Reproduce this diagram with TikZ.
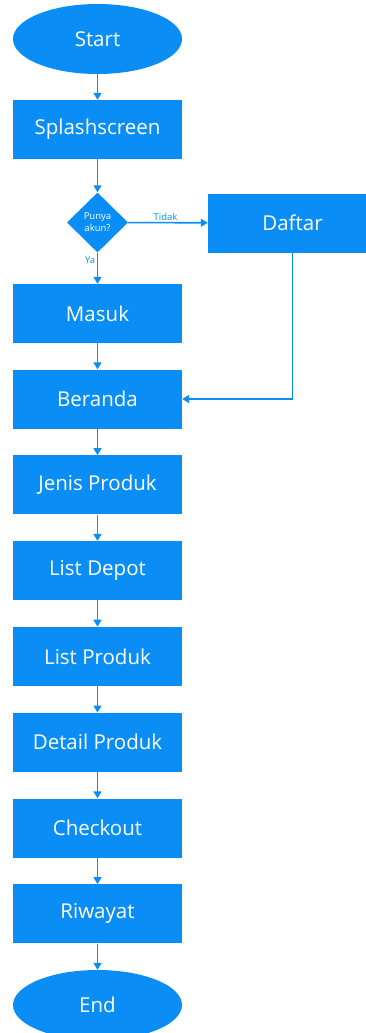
\documentclass[tikz,border=0pt]{standalone}
\usepackage{fontspec}
\setmainfont{Open Sans}
\usetikzlibrary{shapes.geometric,arrows.meta}
\definecolor{flowblue}{RGB}{10,142,245}
\begin{document}
\begin{tikzpicture}[x=1pt,y=-1pt,box/.style={shape=rectangle,fill=flowblue,text=white,minimum width=169pt,minimum height=59pt,inner sep=0pt,font=\fontsize{20.5}{24}\selectfont},term/.style={box,shape=ellipse,minimum height=70pt},decide/.style={shape=diamond,fill=flowblue,text=white,minimum width=61pt,minimum height=60pt,inner sep=0pt,align=center,font=\fontsize{9.5}{12}\selectfont},flow/.style={draw=flowblue,line width=1.6pt,-{Triangle[width=8pt,length=7pt]}},lbl/.style={text=flowblue,font=\fontsize{9.5}{11}\selectfont,inner sep=1.5pt}]
\def\cx{97.5};
\def\dy{85.8};

\useasboundingbox (0,0) rectangle (366,1033);

\node[term] (start) at (\cx,39) {Start};
\node[box] (splash) at (\cx,129.5) {Splashscreen};
\node[decide] (akun) at (\cx,222.5) {Punya\\akun?};
\node[box] (daftar) at (292.5,223) {Daftar};
\node[box] (masuk) at (\cx,313.5) {Masuk};
\node[box] (beranda) at (\cx,399) {Beranda};
\node[box] (jenis) at (\cx,399+\dy) {Jenis Produk};
\node[box] (depot) at (\cx,399+2*\dy) {List Depot};
\node[box] (produk) at (\cx,399+3*\dy) {List Produk};
\node[box] (detail) at (\cx,399+4*\dy) {Detail Produk};
\node[box] (checkout) at (\cx,399+5*\dy) {Checkout};
\node[box] (riwayat) at (\cx,399+6*\dy) {Riwayat};
\node[term] (end) at (\cx,1005) {End};

\draw[flow] (start) -- (splash);
\draw[flow] (splash) -- (akun);
\draw[flow] (akun) -- node[lbl,above,pos=0.47] {Tidak} (daftar);
\draw[flow] (akun) -- node[lbl,left,pos=0.25] {Ya} (masuk);
\draw[flow] (daftar.south) |- (beranda.east);
\draw[flow] (masuk) -- (beranda);
\draw[flow] (beranda) -- (jenis);
\draw[flow] (jenis) -- (depot);
\draw[flow] (depot) -- (produk);
\draw[flow] (produk) -- (detail);
\draw[flow] (detail) -- (checkout);
\draw[flow] (checkout) -- (riwayat);
\draw[flow] (riwayat) -- (end);
\end{tikzpicture}
\end{document}
